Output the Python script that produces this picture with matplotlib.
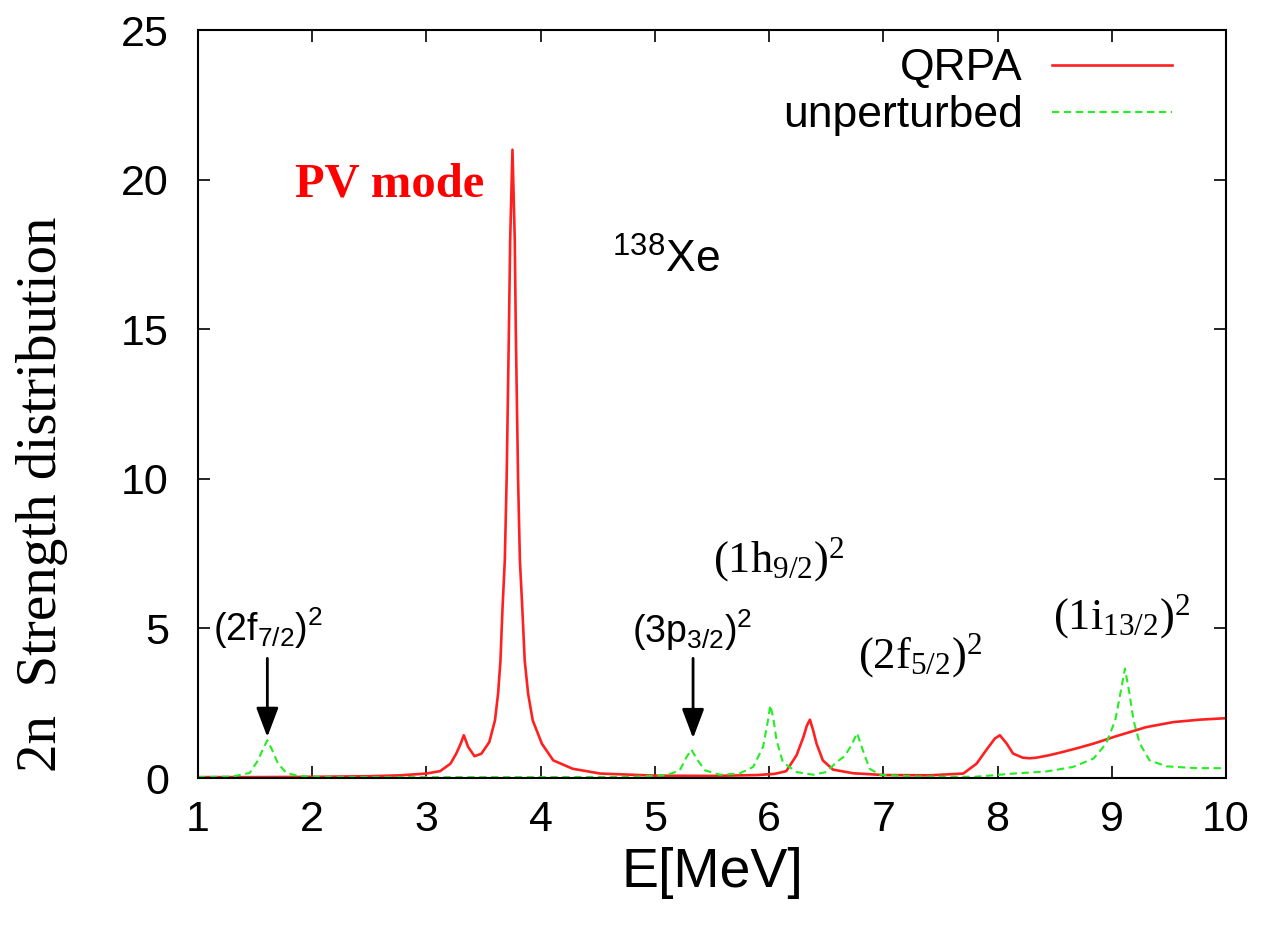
import matplotlib
matplotlib.use("Agg")
import matplotlib.pyplot as plt

# strength curves, E in MeV
qrpa_e = [1.0, 1.5, 2.0, 2.5, 2.77, 3.0, 3.12, 3.21, 3.26, 3.30, 3.327, 3.365, 3.42, 3.48,
          3.55, 3.60, 3.627, 3.648, 3.665, 3.686, 3.702, 3.722, 3.733, 3.753, 3.773, 3.782,
          3.802, 3.818, 3.84, 3.86, 3.89, 3.93, 4.01, 4.11, 4.28, 4.52, 5.0, 5.5, 5.9, 6.05,
          6.15, 6.24, 6.30, 6.33, 6.357, 6.385, 6.415, 6.47, 6.56, 6.735, 7.0, 7.4, 7.70,
          7.816, 7.90, 7.976, 8.02, 8.08, 8.135, 8.22, 8.28, 8.34, 8.45, 8.57, 8.70, 8.84,
          9.04, 9.30, 9.54, 9.77, 10.0]
qrpa_s = [0.03, 0.03, 0.04, 0.06, 0.09, 0.15, 0.23, 0.48, 0.81, 1.15, 1.43, 1.04, 0.73, 0.81,
          1.2, 1.93, 2.82, 3.93, 5.6, 7.28, 10.0, 15.0, 18.0, 21.0, 18.0, 15.0,
          10.0, 7.28, 5.6, 3.93, 2.82, 1.93, 1.15, 0.59, 0.31, 0.15, 0.08, 0.07, 0.10, 0.14,
          0.23, 0.76, 1.37, 1.75, 1.95, 1.60, 1.15, 0.59, 0.28, 0.16, 0.10, 0.09, 0.15,
          0.48, 0.93, 1.32, 1.43, 1.15, 0.82, 0.68, 0.66, 0.68, 0.76, 0.87, 1.00, 1.15,
          1.40, 1.70, 1.87, 1.95, 2.0]

unp_e = [1.0, 1.3, 1.453, 1.525, 1.57, 1.607, 1.65, 1.70, 1.774, 1.89, 2.2, 3.0, 4.0, 4.8,
         5.1, 5.218, 5.277, 5.32, 5.364, 5.437, 5.568, 5.74, 5.86, 5.947, 5.99, 6.01, 6.035,
         6.065, 6.12, 6.24, 6.385, 6.50, 6.59, 6.66, 6.72, 6.77, 6.82, 6.88, 6.97, 7.3, 7.8,
         8.14, 8.43, 8.66, 8.84, 8.95, 9.03, 9.08, 9.115, 9.15, 9.19, 9.245, 9.33, 9.48,
         9.74, 10.0]
unp_s = [0.03, 0.05, 0.17, 0.59, 0.98, 1.26, 0.93, 0.48, 0.17, 0.06, 0.03, 0.03, 0.03, 0.04,
         0.09, 0.26, 0.70, 0.95, 0.65, 0.26, 0.11, 0.15, 0.37, 1.04, 1.93, 2.43, 2.04,
         1.26, 0.53, 0.20, 0.11, 0.20, 0.53, 0.73, 1.09, 1.50, 0.93, 0.31, 0.11, 0.05, 0.04,
         0.15, 0.22, 0.37, 0.65, 1.15, 1.93, 2.93, 3.66, 2.93, 1.93, 1.15, 0.59, 0.39,
         0.33, 0.33]

x_ticks = list(range(1, 11))
y_ticks = [0, 5, 10, 15, 20, 25]

sans = "Liberation Sans"
serif = "Liberation Serif"

fig = plt.figure(figsize=(12.62, 9.26), dpi=100)
ax = fig.add_axes([0.1569, 0.1598, 0.8146, 0.8078])

ax.plot(qrpa_e, qrpa_s, color="#ff2020", lw=1.9, label="QRPA")
ax.plot(unp_e, unp_s, color="#22ee22", lw=1.5, dashes=(3.5, 2.2), label="unperturbed")

ax.set_xlim(1, 10)
ax.set_ylim(0, 25)
ax.set_xticks(x_ticks)
ax.set_yticks(y_ticks)
ax.tick_params(direction="in", length=8.5, width=1.2, top=True, right=True,
               labelsize=31)
ax.tick_params(axis="x", pad=16)
ax.tick_params(axis="y", pad=21)
for lab in ax.get_xticklabels() + ax.get_yticklabels():
    lab.set_family(sans)
for sp in ax.spines.values():
    sp.set_linewidth(1.5)

ax.set_xlabel("E[MeV]", family=sans, fontsize=40, labelpad=5)
ax.set_ylabel("2n  Strength distribution", family=serif, fontsize=41, va="center")
ax.yaxis.set_label_coords(-0.152, 0.38)

leg = ax.legend(loc="upper right", bbox_to_anchor=(0.947, 0.9755), frameon=False,
                markerfirst=False, borderpad=0, borderaxespad=0,
                handlelength=2.7, handletextpad=0.65, labelspacing=0.13,
                prop={"family": sans, "size": 32})

# labels on the plot
ax.text(1.85, 19.42, "PV mode", color="red", family=serif, weight="bold", fontsize=35)
ax.text(4.625, 16.88, r"$\mathregular{^{138}Xe}$", family=sans, fontsize=32)

ax.text(1.13, 4.58, r"$\mathregular{(2f_{7/2})^2}$", family=sans, fontsize=27)
ax.text(4.80, 4.50, r"$\mathregular{(3p_{3/2})^2}$", family=sans, fontsize=27)
ax.text(5.51, 6.90, r"$\mathregular{(1h_{9/2})^2}$", family=serif, fontsize=32)
ax.text(6.78, 3.68, r"$\mathregular{(2f_{5/2})^2}$", family=serif, fontsize=32)
ax.text(8.487, 5.0, r"$\mathregular{(1i_{13/2})^2}$", family=serif, fontsize=32)

arrow = dict(arrowstyle="-|>,head_length=0.45,head_width=0.17", lw=2, color="black",
             mutation_scale=40, shrinkA=0, shrinkB=0)
ax.annotate("", xy=(1.607, 1.37), xytext=(1.607, 4.0), arrowprops=arrow)
ax.annotate("", xy=(5.334, 1.33), xytext=(5.334, 4.0), arrowprops=arrow)

fig.savefig("out.png", dpi=100)
